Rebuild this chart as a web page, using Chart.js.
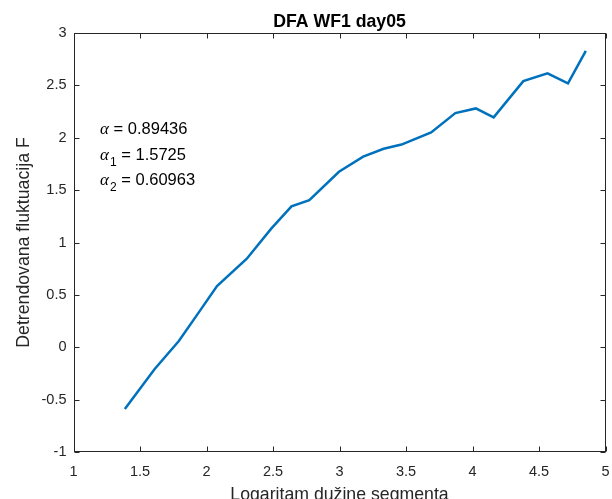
<!doctype html>
<html>

<head>
	<meta charset="utf-8">
	<title>DFA WF1 day05</title>
	<style>
		html,
		body {
			margin: 0;
			padding: 0;
			background: #fff;
		}
	</style>
	<script src="https://cdn.jsdelivr.net/npm/chart.js@4.4.0/dist/chart.umd.min.js"></script>
</head>

<body>
	<canvas id="dfa" width="612" height="499"></canvas>
	<script>
		"use strict";
		// log of segment length vs log of detrended fluctuation
		const log_n = [1.386, 1.609, 1.792, 1.946, 2.079, 2.303, 2.485, 2.639, 2.773, 2.996, 3.178,
			3.332, 3.466, 3.689, 3.871, 4.025, 4.159, 4.382, 4.564, 4.718, 4.852];
		const log_f = [-0.59, -0.21, 0.06, 0.34, 0.585, 0.845, 1.13, 1.345, 1.405, 1.675, 1.82,
			1.895, 1.935, 2.05, 2.235, 2.28, 2.195, 2.54, 2.615, 2.52, 2.83];

		const x_ticks = [1, 1.5, 2, 2.5, 3, 3.5, 4, 4.5, 5];
		const y_ticks = [-1, -0.5, 0, 0.5, 1, 1.5, 2, 2.5, 3];

		// fitted exponents, whole range and the two sub-ranges
		const alpha_subs = ["", "1", "2"];
		const alpha_vals = ["0.89436", "1.5725", "0.60963"];

		const SANS = '"Liberation Sans", Arial, Helvetica, sans-serif';
		const AXIS_COLOR = "#262626";

		const points = log_n.map((v, i) => ({ x: v, y: log_f[i] }));

		// matlab-like box with inward ticks on all four sides, plus the title
		const box_plugin = {
			id: "box",
			afterDraw(chart) {
				const { ctx, chartArea: a, scales: { x, y } } = chart;
				const L = Math.round(a.left) + 0.5, R = Math.round(a.right) - 0.5;
				const T = Math.round(a.top) + 0.5, B = Math.round(a.bottom) - 0.5;
				ctx.save();
				ctx.strokeStyle = AXIS_COLOR;
				ctx.lineWidth = 1;
				ctx.strokeRect(L, T, R - L, B - T);
				ctx.beginPath();
				x_ticks.forEach(v => {
					const px = Math.round(x.getPixelForValue(v)) + 0.5;
					ctx.moveTo(px, B); ctx.lineTo(px, B - 5);
					ctx.moveTo(px, T); ctx.lineTo(px, T + 5);
				});
				y_ticks.forEach(v => {
					const py = Math.round(y.getPixelForValue(v)) + 0.5;
					ctx.moveTo(L, py); ctx.lineTo(L + 5, py);
					ctx.moveTo(R, py); ctx.lineTo(R - 5, py);
				});
				ctx.stroke();

				ctx.fillStyle = "#000";
				ctx.font = "bold 17.7px " + SANS;
				ctx.textAlign = "center";
				ctx.textBaseline = "alphabetic";
				ctx.fillText("DFA WF1 day05", (a.left + a.right) / 2, 26.7);
				ctx.restore();
			}
		};

		// alpha annotations, anchored at a data point
		const alpha_plugin = {
			id: "alphas",
			afterDatasetsDraw(chart) {
				const { ctx, scales: { x, y } } = chart;
				const x0 = x.getPixelForValue(1.2);
				const y0 = y.getPixelForValue(2.033);
				ctx.save();
				ctx.fillStyle = "#000";
				ctx.textAlign = "left";
				ctx.textBaseline = "alphabetic";
				alpha_vals.forEach((val, i) => {
					const py = y0 + i * 25.5;
					let cx = x0;
					ctx.font = 'italic 17px "Liberation Serif", "Times New Roman", serif';
					ctx.fillText("α", cx, py);
					cx += ctx.measureText("α").width;
					if (alpha_subs[i]) {
						ctx.font = "12px " + SANS;
						ctx.fillText(alpha_subs[i], cx + 1, py + 6);
						cx += ctx.measureText(alpha_subs[i]).width + 1;
					}
					ctx.font = "16.5px " + SANS;
					ctx.fillText(" = " + val, cx, py);
				});
				ctx.restore();
			}
		};

		const chart = new Chart(document.getElementById("dfa"), {
			type: "line",
			data: {
				datasets: [{
					data: points,
					borderColor: "#0072BD",
					borderWidth: 2.5,
					pointRadius: 0,
					tension: 0,
					fill: false
				}]
			},
			options: {
				responsive: false,
				animation: false,
				layout: {
					padding: { top: 33, right: 6.5, left: 0, bottom: 0 }
				},
				plugins: {
					legend: { display: false },
					tooltip: { enabled: false }
				},
				scales: {
					x: {
						type: "linear",
						min: 1,
						max: 5,
						afterBuildTicks: s => { s.ticks = x_ticks.map(v => ({ value: v })); },
						afterFit: s => {
							s.height = 47;
							s.paddingLeft = 0;
							s.paddingRight = 0;
						},
						grid: { drawOnChartArea: false, drawTicks: false },
						border: { display: false },
						ticks: {
							color: AXIS_COLOR,
							font: { family: SANS, size: 14.5 },
							padding: 11,
							maxRotation: 0,
							autoSkip: false,
							callback: v => String(v)
						},
						title: {
							display: true,
							text: "Logaritam dužine segmenta",
							color: AXIS_COLOR,
							font: { family: SANS, size: 17.7 },
							padding: { top: 0, bottom: -7 }
						}
					},
					y: {
						type: "linear",
						min: -1,
						max: 3,
						afterBuildTicks: s => { s.ticks = y_ticks.map(v => ({ value: v })); },
						afterFit: s => {
							s.width = 73.5;
							s.paddingTop = 0;
							s.paddingBottom = 0;
						},
						grid: { drawOnChartArea: false, drawTicks: false },
						border: { display: false },
						ticks: {
							color: AXIS_COLOR,
							font: { family: SANS, size: 14.5 },
							padding: 7,
							callback: v => String(v)
						},
						title: {
							display: true,
							text: "Detrendovana fluktuacija F",
							color: AXIS_COLOR,
							font: { family: SANS, size: 17.7 },
							padding: { top: 13, bottom: 0 }
						}
					}
				}
			},
			plugins: [alpha_plugin, box_plugin]
		});
	</script>
</body>

</html>
